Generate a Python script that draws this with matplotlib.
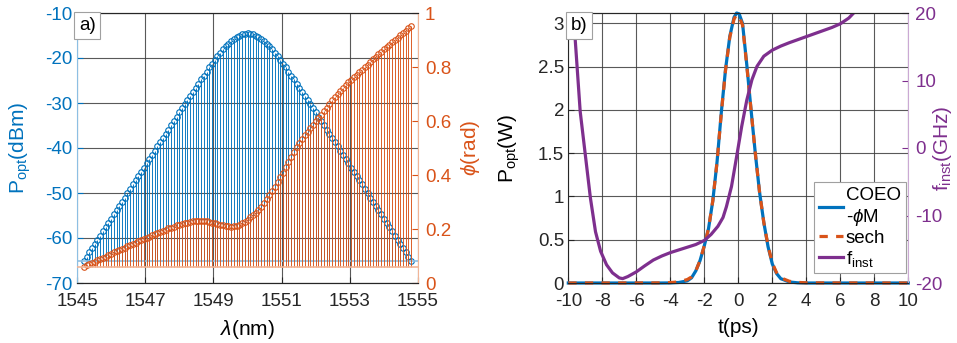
import matplotlib
matplotlib.use("Agg")
import matplotlib.pyplot as plt
from matplotlib.lines import Line2D

plt.rcParams["font.family"] = ["Liberation Sans", "DejaVu Sans"]
plt.rcParams["mathtext.fontset"] = "custom"
plt.rcParams["mathtext.rm"] = "Liberation Sans"
plt.rcParams["mathtext.it"] = "Liberation Sans:italic"
plt.rcParams["axes.unicode_minus"] = False

# --- a) spectre optique (peigne 10 GHz) ---
wavelength = [
    1545.20, 1545.28, 1545.36, 1545.44, 1545.52, 1545.60, 1545.68, 1545.76, 1545.84, 1545.92,
    1546.00, 1546.08, 1546.16, 1546.24, 1546.32, 1546.40, 1546.48, 1546.56, 1546.64, 1546.72,
    1546.80, 1546.88, 1546.96, 1547.04, 1547.12, 1547.20, 1547.28, 1547.36, 1547.44, 1547.52,
    1547.60, 1547.68, 1547.76, 1547.84, 1547.92, 1548.00, 1548.08, 1548.16, 1548.24, 1548.32,
    1548.40, 1548.48, 1548.56, 1548.64, 1548.72, 1548.80, 1548.88, 1548.96, 1549.04, 1549.12,
    1549.20, 1549.28, 1549.36, 1549.44, 1549.52, 1549.60, 1549.68, 1549.76, 1549.84, 1549.92,
    1550.00, 1550.08, 1550.16, 1550.24, 1550.32, 1550.40, 1550.48, 1550.56, 1550.64, 1550.72,
    1550.80, 1550.88, 1550.96, 1551.04, 1551.12, 1551.20, 1551.28, 1551.36, 1551.44, 1551.52,
    1551.60, 1551.68, 1551.76, 1551.84, 1551.92, 1552.00, 1552.08, 1552.16, 1552.24, 1552.32,
    1552.40, 1552.48, 1552.56, 1552.64, 1552.72, 1552.80, 1552.88, 1552.96, 1553.04, 1553.12,
    1553.20, 1553.28, 1553.36, 1553.44, 1553.52, 1553.60, 1553.68, 1553.76, 1553.84, 1553.92,
    1554.00, 1554.08, 1554.16, 1554.24, 1554.32, 1554.40, 1554.48, 1554.56, 1554.64, 1554.72,
    1554.80,
]

p_opt_dbm = [
    -65.1, -64.2, -63.2, -62.3, -61.3, -60.4, -59.5, -58.5, -57.6, -56.6,
    -55.7, -54.7, -53.8, -52.9, -51.9, -51.0, -50.0, -49.1, -48.1, -47.2,
    -46.2, -45.3, -44.4, -43.4, -42.5, -41.5, -40.6, -39.6, -38.7, -37.8,
    -36.8, -35.9, -34.9, -34.0, -33.0, -32.0, -31.2, -30.3, -29.3, -28.4,
    -27.5, -26.6, -25.7, -24.7, -23.9, -23.0, -22.1, -21.3, -20.4, -19.6,
    -18.9, -18.1, -17.4, -16.8, -16.2, -15.7, -15.3, -15.0, -14.7, -14.6,
    -14.5,
    -14.6, -14.7, -15.0, -15.3, -15.7, -16.2, -16.8, -17.4, -18.1, -18.9,
    -19.6, -20.4, -21.3, -22.1, -23.0, -23.9, -24.7, -25.7, -26.6, -27.5,
    -28.4, -29.3, -30.3, -31.2, -32.0, -33.0, -34.0, -34.9, -35.9, -36.8,
    -37.8, -38.7, -39.6, -40.6, -41.5, -42.5, -43.4, -44.4, -45.3, -46.2,
    -47.2, -48.1, -49.1, -50.0, -51.0, -51.9, -52.9, -53.8, -54.7, -55.7,
    -56.6, -57.6, -58.5, -59.5, -60.4, -61.3, -62.3, -63.2, -64.2, -65.1,
]

phase_rad = [
    0.060, 0.065, 0.070, 0.074, 0.079, 0.084, 0.089, 0.094, 0.098, 0.103,
    0.108, 0.113, 0.117, 0.122, 0.126, 0.131, 0.136, 0.140, 0.145, 0.149,
    0.154, 0.159, 0.163, 0.168, 0.172, 0.177, 0.181, 0.185, 0.190, 0.194,
    0.198, 0.202, 0.205, 0.209, 0.213, 0.216, 0.219, 0.222, 0.224, 0.227,
    0.229, 0.230, 0.231, 0.231, 0.230, 0.228, 0.226, 0.223, 0.221, 0.218,
    0.215, 0.213, 0.211, 0.210, 0.209, 0.210, 0.212, 0.216, 0.221, 0.227,
    0.234, 0.243, 0.251, 0.261, 0.272, 0.283, 0.297, 0.311, 0.325, 0.341,
    0.356, 0.374, 0.391, 0.409, 0.428, 0.447, 0.466, 0.485, 0.503, 0.519,
    0.535, 0.548, 0.561, 0.574, 0.587, 0.600, 0.612, 0.624, 0.636, 0.650,
    0.664, 0.676, 0.688, 0.700, 0.711, 0.722, 0.732, 0.743, 0.753, 0.762,
    0.772, 0.781, 0.790, 0.800, 0.809, 0.818, 0.828, 0.837, 0.847, 0.856,
    0.865, 0.874, 0.883, 0.891, 0.900, 0.909, 0.917, 0.926, 0.934, 0.943,
    0.952,
]

# --- b) impulsion temporelle ---
t_pulse = [-10, -5, -4.5, -4, -3.5, -3, -2.75, -2.5, -2.25, -2, -1.75, -1.5,
           -1.25, -1, -0.75, -0.5, -0.25, -0.1, 0.05, 0.25, 0.5, 0.75, 1,
           1.25, 1.5, 1.75, 2, 2.25, 2.5, 3, 3.5, 4, 5, 10]
p_coeo = [0, 0, 0, 0.001, 0.006, 0.025, 0.06, 0.14, 0.26, 0.43, 0.63, 0.95,
          1.40, 1.97, 2.47, 2.85, 3.07, 3.12, 3.11, 3.0, 2.52, 2.0, 1.5,
          1.05, 0.70, 0.42, 0.22, 0.11, 0.05, 0.012, 0.002, 0, 0, 0]
p_sech = [0, 0.001, 0.002, 0.005, 0.013, 0.04, 0.07, 0.14, 0.26, 0.43, 0.63,
          0.95, 1.40, 1.96, 2.46, 2.84, 3.05, 3.10, 3.08, 2.98, 2.51, 2.0,
          1.5, 1.05, 0.70, 0.43, 0.23, 0.12, 0.06, 0.02, 0.007, 0.002, 0.001, 0]

t_finst = [-9.8, -9.6, -9.3, -9.0, -8.7, -8.4, -8.1, -7.75, -7.4, -7.0, -6.8,
           -6.5, -6.0, -5.5, -5.0, -4.5, -4.0, -3.5, -3.0, -2.5, -2.0, -1.6,
           -1.2, -0.9, -0.7, -0.4, -0.1, 0.2, 0.5, 0.8, 1.1, 1.5, 2.0, 2.5,
           3.0, 3.5, 4.0, 4.5, 5.0, 5.5, 6.0, 6.5, 6.9, 7.2]
f_inst = [23.0, 16.3, 5.4, -1.0, -7.4, -12.4, -15.3, -17.3, -18.5, -19.25,
          -19.35, -19.05, -18.35, -17.45, -16.6, -16.0, -15.5, -15.1, -14.7,
          -14.3, -13.7, -12.8, -11.6, -10.3, -8.7, -5.7, -1.3, 3.2, 7.1, 10.1,
          12.1, 13.6, 14.5, 15.1, 15.6, 16.05, 16.5, 16.95, 17.4, 17.85, 18.4,
          19.25, 20.3, 21.5]

BLEU = "#0072BD"
ORANGE = "#D95319"
VIOLET = "#7E2F8E"
GRILLE = "#3c3c3c"
TAILLE_TICK = 13.5
TAILLE_LABEL = 15

W, H = 957, 343
fig = plt.figure(figsize=(W / 100, H / 100), dpi=100)

# ---------------- panneau a) ----------------
ax = fig.add_axes([77 / W, (H - 283) / H, 341 / W, 270 / H])
ax.vlines(wavelength, min(p_opt_dbm), p_opt_dbm, colors=BLEU, lw=0.65)
ax.plot(wavelength, p_opt_dbm, "o", mfc="none", mec=BLEU, ms=4.0, mew=0.8)
ax.axhline(min(p_opt_dbm), color="#8dbfe3", lw=1.2)
ax.set_xlim(1545, 1555)
ax.set_ylim(-70, -10)
ax.set_xticks([1545, 1547, 1549, 1551, 1553, 1555])
ax.set_yticks([-70, -60, -50, -40, -30, -20, -10])
ax.grid(True, color=GRILLE, lw=0.8, alpha=0.85)
ax.set_axisbelow(True)
ax.tick_params(axis="x", direction="in", length=4, labelsize=TAILLE_TICK,
               colors="#262626", pad=7)
ax.tick_params(axis="y", direction="in", length=4, labelsize=TAILLE_TICK,
               colors=BLEU, pad=3)
ax.set_xlabel(r"$\lambda$(nm)", fontsize=TAILLE_LABEL)
ax.set_ylabel(r"P$_{\rm opt}$(dBm)", fontsize=TAILLE_LABEL, color=BLEU)
ax.xaxis.set_label_coords(0.5, -0.13)
ax.yaxis.set_label_coords(-0.128, 0.5)

ax2 = ax.twinx()
ax2.vlines(wavelength, min(phase_rad), phase_rad, colors=ORANGE, lw=0.65)
ax2.plot(wavelength, phase_rad, "o", mfc="none", mec=ORANGE, ms=4.0, mew=0.8)
ax2.axhline(min(phase_rad), color="#f1b597", lw=1.2)
ax2.set_ylim(0, 1)
ax2.set_yticks([0, 0.2, 0.4, 0.6, 0.8, 1])
ax2.set_yticklabels(["0", "0.2", "0.4", "0.6", "0.8", "1"])
ax2.tick_params(axis="y", direction="in", length=4, labelsize=TAILLE_TICK,
                colors=ORANGE, pad=5)
ax2.set_ylabel(r"$\phi$(rad)", fontsize=TAILLE_LABEL, color=ORANGE, rotation=90)
ax2.yaxis.set_label_coords(1.12, 0.5)

for a in (ax, ax2):
    a.spines["top"].set_color("#262626")
    a.spines["bottom"].set_color("#262626")
ax.spines["right"].set_visible(False)
ax2.spines["left"].set_visible(False)
ax.spines["left"].set_color("#8dbfe3")
ax2.spines["right"].set_color("#f1b597")
ax2.text(0.006, 0.985, "a)", transform=ax2.transAxes, ha="left", va="top",
         fontsize=TAILLE_TICK, zorder=10,
         bbox=dict(boxstyle="square,pad=0.25", fc="white", ec="#a0a0a0", lw=0.8))

# ---------------- panneau b) ----------------
ax3 = fig.add_axes([568.3 / W, (H - 283) / H, 340 / W, 270 / H])
ax3.plot(t_pulse, p_coeo, color=BLEU, lw=2.3, clip_on=False, zorder=3)
ax3.plot(t_pulse, p_sech, color=ORANGE, lw=2.3, ls=(0, (2.6, 2.6)),
         clip_on=False, zorder=4)
ax3.set_xlim(-10, 10)
ax3.set_ylim(0, 3.12)
ax3.set_xticks(range(-10, 11, 2))
ax3.set_yticks([0, 0.5, 1, 1.5, 2, 2.5, 3])
ax3.set_yticklabels(["0", "0.5", "1", "1.5", "2", "2.5", "3"])
ax3.grid(True, color=GRILLE, lw=0.8, alpha=0.85)
ax3.set_axisbelow(True)
ax3.tick_params(axis="x", direction="in", length=4, labelsize=TAILLE_TICK,
                colors="#262626", pad=7)
ax3.tick_params(axis="y", direction="in", length=4, labelsize=TAILLE_TICK,
                colors="#262626", pad=3)
ax3.set_xlabel("t(ps)", fontsize=TAILLE_LABEL)
ax3.set_ylabel(r"P$_{\rm opt}$(W)", fontsize=TAILLE_LABEL)
ax3.xaxis.set_label_coords(0.5, -0.13)
ax3.yaxis.set_label_coords(-0.137, 0.5)

ax4 = ax3.twinx()
ax4.plot(t_finst, f_inst, color=VIOLET, lw=2.3)
ax4.set_ylim(-20, 20)
ax4.set_yticks([-20, -10, 0, 10, 20])
ax4.tick_params(axis="y", direction="in", length=4, labelsize=TAILLE_TICK,
                colors=VIOLET, pad=5)
ax4.set_ylabel(r"f$_{\rm inst}$(GHz)", fontsize=TAILLE_LABEL, color=VIOLET, rotation=90)
ax4.yaxis.set_label_coords(1.066, 0.5)

for a in (ax3, ax4):
    a.spines["top"].set_color("#262626")
    a.spines["bottom"].set_color("#262626")
ax3.spines["right"].set_visible(False)
ax4.spines["left"].set_visible(False)
ax3.spines["left"].set_color("#262626")
ax4.spines["right"].set_color("#cba9d4")

handles = [
    Line2D([], [], color=BLEU, lw=2.3),
    Line2D([], [], color=ORANGE, lw=2.3, ls=(0, (2.6, 2.6))),
    Line2D([], [], color=VIOLET, lw=2.3),
]
labels = ["COEO\n-$\\phi$M", "sech", "f$_{\\rm inst}$"]
leg = ax4.legend(handles, labels, loc="lower right", bbox_to_anchor=(0.992, 0.036),
                 fontsize=TAILLE_TICK, frameon=True, fancybox=False, framealpha=1,
                 edgecolor="#a0a0a0", handlelength=1.3, handletextpad=0.15,
                 borderpad=0.25, labelspacing=0.1, borderaxespad=0)
leg.get_frame().set_linewidth(0.8)
ax4.text(0.006, 0.985, "b)", transform=ax4.transAxes, ha="left", va="top",
         fontsize=TAILLE_TICK, zorder=10,
         bbox=dict(boxstyle="square,pad=0.25", fc="white", ec="#a0a0a0", lw=0.8))

plt.savefig("out.png", dpi=100)
plt.close()
